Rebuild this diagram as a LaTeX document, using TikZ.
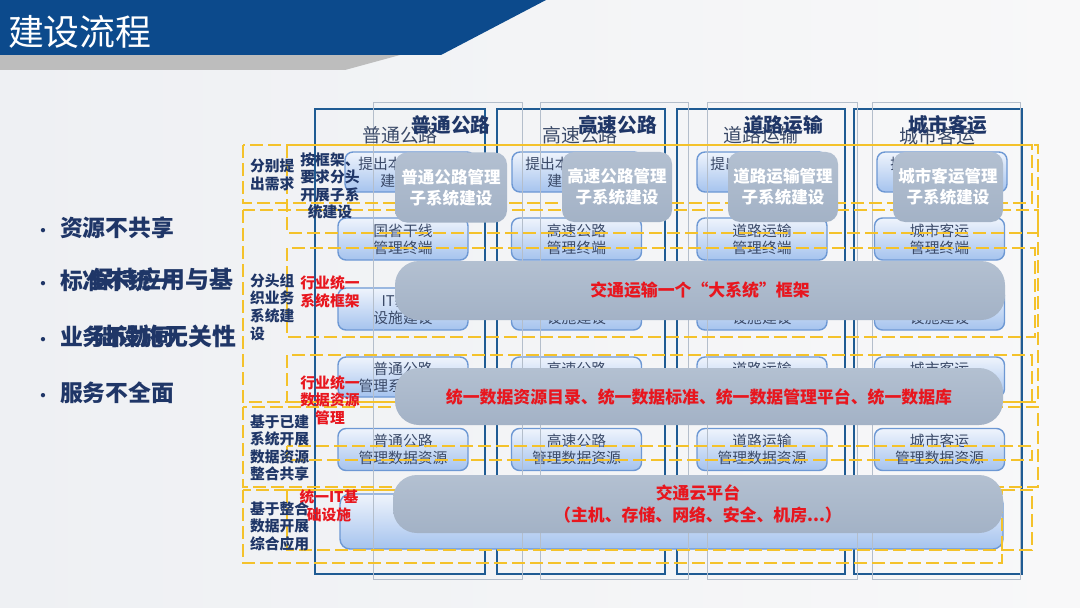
\documentclass[tikz,border=0pt]{standalone}
\usepackage{fontspec}
\setmainfont{Noto Sans CJK SC}
\usepackage{xcolor}
\usepackage{tikz}
\usetikzlibrary{positioning}

% colores
\definecolor{azulcab}{HTML}{0C4A8C}
\definecolor{grisfranja}{HTML}{BDBDBD}
\definecolor{fondo}{HTML}{EEF0F3}
\definecolor{fondoc}{HTML}{F8F8F9}
\definecolor{marino}{HTML}{1F3667}
\definecolor{colosc}{HTML}{1F5B93}
\definecolor{colclaro}{HTML}{B4BECB}
\definecolor{amarillo}{HTML}{F4C22B}
\definecolor{azulborde}{HTML}{6D98D4}
\definecolor{azulclaro}{HTML}{EFF4FC}
\definecolor{azulmedio}{HTML}{A5C3EE}
\definecolor{textogris}{HTML}{3B4A68}
\definecolor{grisbarra}{HTML}{A3B2C6}
\definecolor{grisbarrac}{HTML}{B3C0D1}
\definecolor{rojo}{HTML}{E8161E}

\begin{document}
\begin{tikzpicture}[x=0.5mm, y=-0.5mm,
    sub/.style={draw=azulborde, line width=0.7mm, rounded corners=4mm,
      top color=azulclaro, bottom color=azulmedio, text=textogris, inner sep=0pt,
      minimum width=65mm, minimum height=21mm, align=center,
      font=\fontsize{21}{24}\selectfont},
    colosc/.style={draw=colosc, line width=1mm, minimum height=232.5mm, inner sep=0pt},
    colclaro/.style={draw=colclaro, line width=0.5mm, minimum height=238mm, inner sep=0pt},
    trazo/.style={draw=amarillo, line width=1.3mm, dash pattern=on 6.5mm off 2.5mm},
    gris/.style={top color=grisbarrac, bottom color=grisbarra, rounded corners=6mm,
      minimum width=55mm, minimum height=35mm, text=white, align=center,
      font=\bfseries\fontsize{23.5}{30}\selectfont},
    barra/.style={top color=grisbarrac, bottom color=grisbarra, rounded corners=12mm,
      minimum width=305mm, minimum height=29mm, text=rojo, align=center,
      font=\bfseries\fontsize{24}{30}\selectfont},
    punto/.style={text=marino, inner sep=0pt, font=\bfseries\fontsize{22}{22}\selectfont},
    etq/.style={text=marino, inner sep=0pt, font=\bfseries\fontsize{21}{25}\selectfont},
    etqroja/.style={text=rojo, inner sep=0pt, align=center, font=\bfseries\fontsize{21}{25}\selectfont},
    cabfuerte/.style={text=marino, inner sep=0pt, font=\bfseries\fontsize{28}{30}\selectfont},
    cabsuave/.style={text=textogris, inner sep=0pt, font=\fontsize{27}{30}\selectfont},
    vineta/.style={text=marino, anchor=west, inner sep=0pt, font=\bfseries\fontsize{32.5}{36}\selectfont},
  ]
  % fondo y marco
  \shade[left color=fondo, right color=fondoc] (0,0) rectangle (1080,608);
  \useasboundingbox (0,0) rectangle (1080,608);

  % cabecera
  \fill[grisfranja] (0,55) -- (400,55) -- (345,70) -- (0,70) -- cycle;
  \fill[azulcab] (0,0) -- (546,0) -- (441,55) -- (0,55) -- cycle;
  \node[text=white, anchor=west, inner sep=0pt, font=\fontsize{51}{54}\selectfont] (titulo) at (8,32) {建设流程};

  % lista de problemas
  \node[punto] (b1) at (43,232) {•};
  \node[punto] (b2) at (43,285) {•};
  \node[punto] (b3) at (43,341) {•};
  \node[punto] (b4) at (43,397) {•};
  \node[vineta] (v1) at (60,228) {资源不共享};
  \node[vineta] (v2) at (60,281) {标准不统一};
  \node[vineta, font=\bfseries\fontsize{34}{36}\selectfont] (v2b) at (90,279) {保持应用与基};
  \node[vineta] (v3) at (60,337) {业务不协同};
  \node[vineta, font=\bfseries\fontsize{34}{36}\selectfont] (v3b) at (93,336) {础设施无关性};
  \node[vineta] (v4) at (60,393) {服务不全面};

  % columnas oscuras
  \node[colosc, minimum width=85mm] (c1) at (400,341.5) {};
  \node[colosc, minimum width=84mm] (c2) at (581,341.5) {};
  \node[colosc, minimum width=84mm] (c3) at (761,341.5) {};
  \node[colosc, minimum width=84mm] (c4) at (938,341.5) {};

  % cajas de cada columna
  \node[sub, minimum height=20mm] (a1) at (410,172) {提出本行业系统\\建设需求};
  \node[sub, minimum height=20mm] (a2) at (577,172) {提出本行业系统\\建设需求};
  \node[sub, minimum height=20mm] (a3) at (762,172) {提出本行业系统\\建设需求};
  \node[sub, minimum height=20mm] (a4) at (942,172) {提出本行业系统\\建设需求};
  \node[sub] (t1) at (403,239) {国省干线\\管理终端};
  \node[sub] (t2) at (576.5,239) {高速公路\\管理终端};
  \node[sub] (t3) at (762,239) {道路运输\\管理终端};
  \node[sub] (t4) at (939.5,239) {城市客运\\管理终端};
  \node[sub] (i1) at (403,309) {IT基础\\设施建设};
  \node[sub] (i2) at (576.5,309) {IT基础\\设施建设};
  \node[sub] (i3) at (762,309) {IT基础\\设施建设};
  \node[sub] (i4) at (939.5,309) {IT基础\\设施建设};
  \node[sub, minimum height=20mm] (s1) at (403,377) {普通公路\\管理系统建设};
  \node[sub, minimum height=20mm] (s2) at (576.5,377) {高速公路\\管理系统建设};
  \node[sub, minimum height=20mm] (s3) at (762,377) {道路运输\\管理系统建设};
  \node[sub, minimum height=20mm] (s4) at (939.5,377) {城市客运\\管理系统建设};
  \node[sub] (d1) at (403,449.5) {普通公路\\管理数据资源};
  \node[sub] (d2) at (576.5,449.5) {高速公路\\管理数据资源};
  \node[sub] (d3) at (762,449.5) {道路运输\\管理数据资源};
  \node[sub] (d4) at (939.5,449.5) {城市客运\\管理数据资源};
  \node[sub, rounded corners=5mm, minimum width=331.5mm, minimum height=27.5mm] (nube) at (671.5,521.5) {};

  % columnas claras
  \node[colclaro, minimum width=74.5mm] (k1) at (447.5,341) {};
  \node[colclaro, minimum width=74mm] (k2) at (614,341) {};
  \node[colclaro, minimum width=75mm] (k3) at (782,341) {};
  \node[colclaro, minimum width=74mm] (k4) at (946,341) {};

  % recuadros discontinuos
  \draw[trazo] (243,145) rectangle (1032,203);
  \draw[trazo] (287,145) rectangle (1038,233);
  \draw[trazo] (243,210) rectangle (1038,402);
  \draw[trazo] (287,248) rectangle (1035,337);
  \draw[trazo] (287,355) rectangle (1032,402);
  \draw[trazo] (243,407) rectangle (1038,487);
  \draw[trazo] (287,446) rectangle (1032,460);
  \draw[trazo] (287,490) rectangle (1032,550);
  \draw[trazo] (243,490) rectangle (1002,563);

  % subsistemas en gris
  \node[gris, minimum width=56mm] (g1) at (451,187.5) {普通公路管理\\子系统建设};
  \node[gris] (g2) at (617,187) {高速公路管理\\子系统建设};
  \node[gris] (g3) at (783,187) {道路运输管理\\子系统建设};
  \node[gris] (g4) at (948,187) {城市客运管理\\子系统建设};

  % barras comunes
  \node[barra, minimum height=29.5mm] (marco) at (700,290.5) {交通运输一个“大系统”框架};
  \node[barra, minimum width=304mm, minimum height=28.5mm] (datos) at (699,396.5)
    {统一数据资源目录、统一数据标准、统一数据管理平台、统一数据库};
  \node[barra] (cloud) at (698,504) {交通云平台\\（主机、存储、网络、安全、机房...）};

  % cabeceras de columna
  \node[cabsuave] (h1) at (400,135) {普通公路};
  \node[cabsuave] (h2) at (580,135) {高速公路};
  \node[cabsuave] (h3) at (761,135) {道路运输};
  \node[cabsuave] (h4) at (937.5,136) {城市客运};
  \node[cabfuerte] (f1) at (451,125) {普通公路};
  \node[cabfuerte] (f2) at (617.5,125) {高速公路};
  \node[cabfuerte] (f3) at (783.5,125) {道路运输};
  \node[cabfuerte] (f4) at (948,125) {城市客运};

  % etiquetas de fila
  \node[etq, anchor=west, align=left] (e1) at (250,175) {分别提\\出需求};
  \node[etq, align=center] (e2) at (330,186) {按框架、\\要求分头\\开展子系\\统建设};
  \node[etq, anchor=west, align=left] (e3) at (250,307) {分头组\\织业务\\系统建\\设};
  \node[etq, anchor=west, align=left] (e4) at (250,448) {基于已建\\系统开展\\数据资源\\整合共享};
  \node[etq, anchor=west, align=left] (e5) at (250,526) {基于整合\\数据开展\\综合应用};
  \node[etqroja] (r1) at (330,292) {行业统一\\系统框架};
  \node[etqroja] (r2) at (330,400) {行业统一\\数据资源\\管理};
  \node[etqroja] (r3) at (329,506) {统一IT基\\础设施};
\end{tikzpicture}
\end{document}
